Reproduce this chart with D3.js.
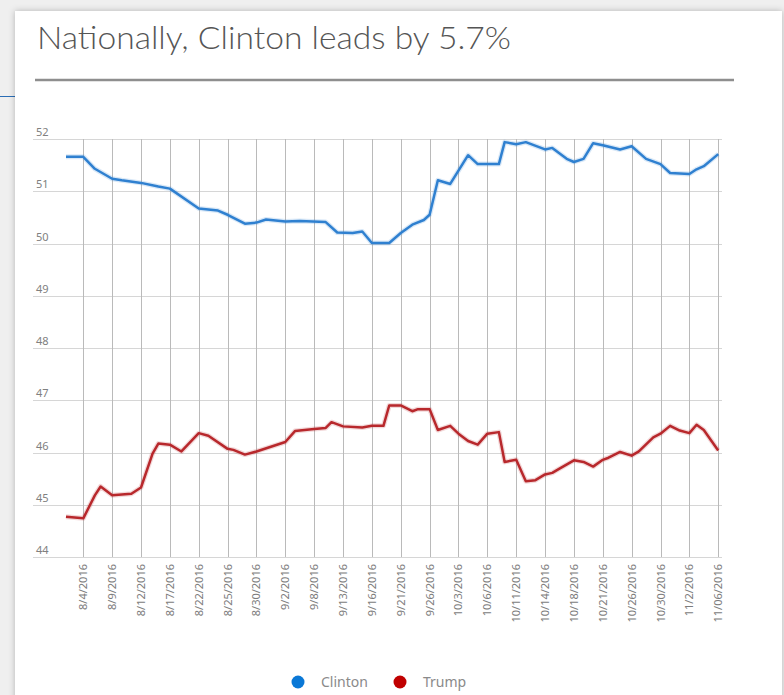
<!DOCTYPE html>
<html>
<head>
<meta charset="utf-8">
<script src="https://cdn.jsdelivr.net/npm/d3@7/dist/d3.min.js"></script>
<style>
html,body{margin:0;padding:0;background:#ececec;}
svg{display:block;}
</style>
</head>
<body>
<svg id="chart" width="784" height="695"></svg>
<script>
// ---- data ----
const titleText = "Nationally, Clinton leads by 5.7%";
const tickLabels = ["8/4/2016","8/9/2016","8/12/2016","8/17/2016","8/22/2016","8/25/2016","8/30/2016","9/2/2016","9/8/2016","9/13/2016","9/16/2016","9/21/2016","9/26/2016","10/3/2016","10/6/2016","10/11/2016","10/14/2016","10/18/2016","10/21/2016","10/26/2016","10/30/2016","11/2/2016","11/06/2016"];
const yTicks = [44,45,46,47,48,49,50,51,52];
const seriesNames = ["Clinton","Trump"];
const seriesColors = ["#2f80d0","#b8282c"];
const legendColors = ["#0a78d6","#c00000"];

const clintonDates = ["8/1/2016","8/4/2016","8/6/2016","8/9/2016","8/10/2016","8/12/2016","8/15/2016","8/17/2016","8/22/2016","8/24/2016","8/25/2016","8/28/2016","8/30/2016","8/31/2016","9/2/2016","9/5/2016","9/10/2016","9/12/2016","9/14/2016","9/15/2016","9/16/2016","9/19/2016","9/21/2016","9/23/2016","9/25/2016","9/26/2016","9/28/2016","10/1/2016","10/4/2016","10/5/2016","10/8/2016","10/9/2016","10/11/2016","10/12/2016","10/14/2016","10/15/2016","10/17/2016","10/18/2016","10/19/2016","10/20/2016","10/21/2016","10/24/2016","10/26/2016","10/28/2016","10/30/2016","10/31/2016","11/2/2016","11/3/2016","11/4/2016","11/6/2016"];
const clintonValues = [51.66,51.66,51.43,51.24,51.21,51.16,51.09,51.05,50.67,50.63,50.55,50.38,50.40,50.46,50.42,50.43,50.41,50.21,50.20,50.23,50.01,50.01,50.20,50.36,50.45,50.55,51.21,51.14,51.69,51.52,51.52,51.94,51.90,51.94,51.80,51.83,51.62,51.56,51.62,51.92,51.88,51.80,51.86,51.62,51.52,51.35,51.33,51.42,51.48,51.71];

const trumpDates = ["8/1/2016","8/4/2016","8/6/2016","8/7/2016","8/9/2016","8/11/2016","8/12/2016","8/14/2016","8/15/2016","8/17/2016","8/19/2016","8/22/2016","8/23/2016","8/25/2016","8/26/2016","8/28/2016","8/30/2016","9/2/2016","9/4/2016","9/8/2016","9/10/2016","9/11/2016","9/13/2016","9/15/2016","9/16/2016","9/18/2016","9/19/2016","9/21/2016","9/23/2016","9/24/2016","9/26/2016","9/28/2016","10/1/2016","10/3/2016","10/4/2016","10/5/2016","10/6/2016","10/8/2016","10/9/2016","10/11/2016","10/12/2016","10/13/2016","10/14/2016","10/15/2016","10/16/2016","10/18/2016","10/19/2016","10/20/2016","10/21/2016","10/22/2016","10/24/2016","10/26/2016","10/27/2016","10/29/2016","10/30/2016","10/31/2016","11/1/2016","11/2/2016","11/3/2016","11/4/2016","11/6/2016"];
const trumpValues = [44.77,44.74,45.18,45.35,45.18,45.21,45.33,45.98,46.17,46.15,46.02,46.37,46.32,46.07,46.05,45.96,46.02,46.20,46.41,46.45,46.47,46.58,46.50,46.48,46.51,46.51,46.90,46.90,46.79,46.83,46.83,46.43,46.51,46.36,46.22,46.15,46.36,46.39,45.82,45.86,45.45,45.47,45.58,45.61,45.69,45.85,45.82,45.73,45.86,45.90,46.01,45.94,46.02,46.29,46.36,46.51,46.42,46.37,46.53,46.43,46.04];

// ---- drawing ----
const W = 784, H = 695;
const parse = d3.timeParse("%m/%d/%Y");
const svg = d3.select("#chart");
const font = "'Noto Sans', 'Open Sans', sans-serif";

const defs = svg.append("defs");
const f = defs.append("filter").attr("id","shadow").attr("x","-5%").attr("y","-5%").attr("width","110%").attr("height","110%");
f.append("feDropShadow").attr("dx",0).attr("dy",0).attr("stdDeviation",3).attr("flood-color","#000").attr("flood-opacity",0.25);

svg.append("rect").attr("width",W).attr("height",H).attr("fill","#efefef");
svg.append("line").attr("x1",0).attr("x2",15).attr("y1",96.5).attr("y2",96.5).attr("stroke","#2a6db5").attr("stroke-width",1);
svg.append("rect").attr("x",15).attr("y",11).attr("width",767).attr("height",H+20)
  .attr("fill","#fff").attr("filter","url(#shadow)");

svg.append("text").attr("x",37).attr("y",49).text(titleText)
  .attr("font-family","Lato, 'Open Sans', sans-serif").attr("font-weight",300)
  .attr("font-size",32).attr("fill","#555")
  .attr("textLength",474).attr("lengthAdjust","spacingAndGlyphs");
svg.append("line").attr("x1",35).attr("x2",734).attr("y1",80).attr("y2",80)
  .attr("stroke","#8e8e8e").attr("stroke-width",2.5);

const tickDates = tickLabels.map(parse);
const x0 = 83.3, step = 28.86;
const x = d3.scaleTime().domain(tickDates).range(tickDates.map((d,i)=>x0+i*step));
const y = d3.scaleLinear().domain([44,52]).range([557,139]);

const gridLeft = 33, gridRight = 722;
const g = svg.append("g");

// horizontal gridlines
g.selectAll(".hg").data(yTicks).join("line")
  .attr("x1",gridLeft).attr("x2",gridRight)
  .attr("y1",d=>Math.round(y(d))+0.5).attr("y2",d=>Math.round(y(d))+0.5)
  .attr("stroke","#d6d6d6").attr("stroke-width",1);
g.selectAll(".yl").data(yTicks).join("text")
  .attr("x",36).attr("y",d=>y(d)-3).text(d=>d)
  .attr("font-family",font).attr("font-size",11).attr("fill","#808080");

// vertical gridlines
g.selectAll(".vg").data(tickDates).join("line")
  .attr("x1",d=>Math.round(x(d))+0.5).attr("x2",d=>Math.round(x(d))+0.5)
  .attr("y1",y(52)).attr("y2",y(44))
  .attr("stroke","#bababa").attr("stroke-width",1);
g.selectAll(".xl").data(tickLabels).join("text")
  .attr("transform",(d,i)=>`translate(${x(tickDates[i])+4},564) rotate(-90)`)
  .attr("text-anchor","end").text(d=>d)
  .attr("font-family",font).attr("font-size",11).attr("fill","#7c7c7c");

// series lines
const series = [
  {dates: clintonDates, values: clintonValues},
  {dates: trumpDates, values: trumpValues}
];
const line = d3.line().x(d=>x(d[0])).y(d=>y(d[1]));
series.forEach((s,k)=>{
  const pts = s.dates.map((d,i)=>[parse(d), s.values[i]]);
  svg.append("path").datum(pts).attr("d",line).attr("fill","none")
    .attr("stroke",seriesColors[k]).attr("stroke-width",5).attr("stroke-opacity",0.18)
    .attr("stroke-linejoin","round");
  svg.append("path").datum(pts).attr("d",line).attr("fill","none")
    .attr("stroke",seriesColors[k]).attr("stroke-width",2.5)
    .attr("stroke-linejoin","round");
});

// legend
const legX = [298, 400];
seriesNames.forEach((n,k)=>{
  svg.append("circle").attr("cx",legX[k]).attr("cy",682).attr("r",6.5).attr("fill",legendColors[k]);
  svg.append("text").attr("x",legX[k]+23).attr("y",687).text(n)
    .attr("font-family",font).attr("font-size",14).attr("fill","#8a8a8a");
});
</script>
</body>
</html>
